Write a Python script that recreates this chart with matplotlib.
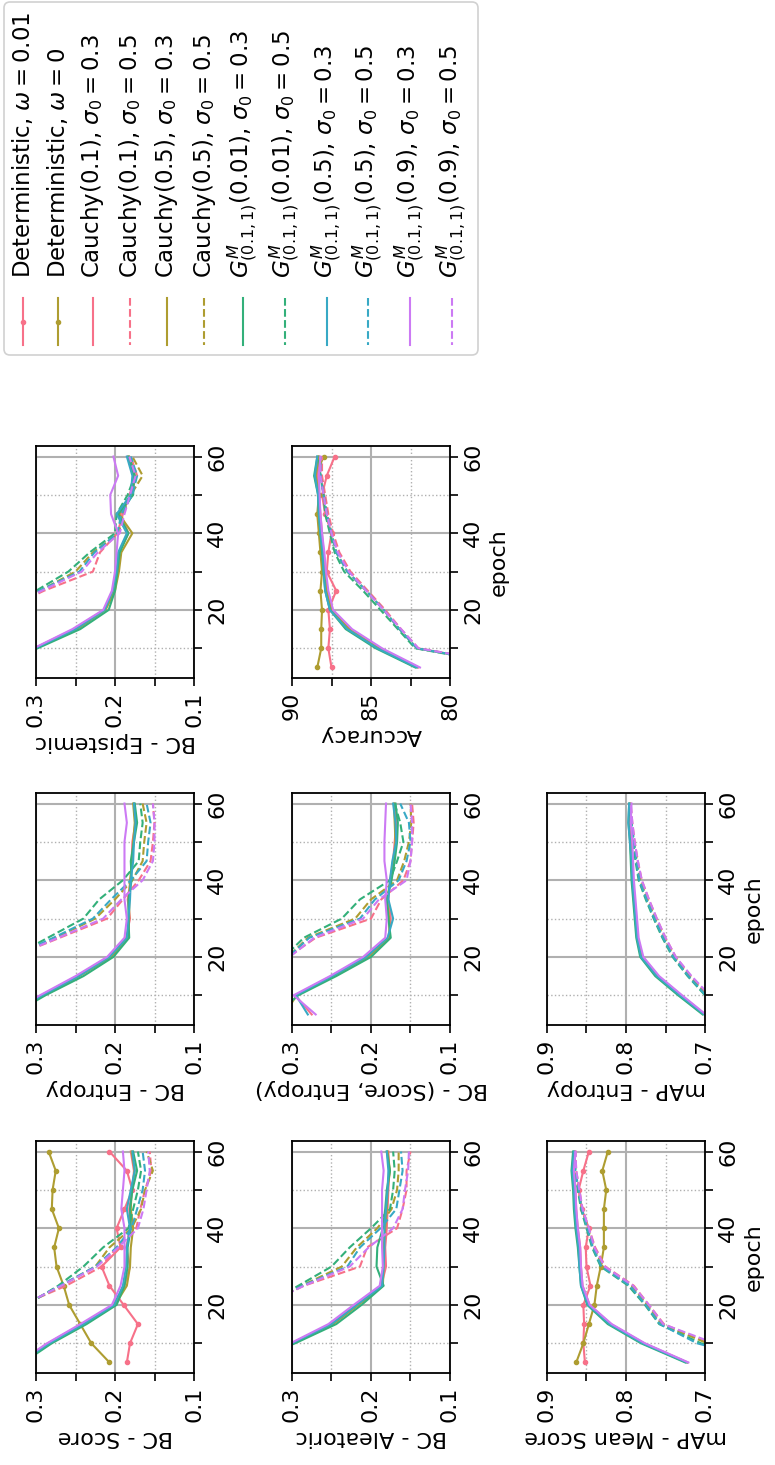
import matplotlib
matplotlib.use("Agg")
import matplotlib.pyplot as plt
import seaborn as sns
from matplotlib.lines import Line2D
from matplotlib.patches import FancyBboxPatch
from matplotlib.ticker import MultipleLocator

# data (epochs 5..60, one point every 5 epochs)
epochs = [5, 10, 15, 20, 25, 30, 35, 40, 45, 50, 55, 60]

labels = [
    r"Deterministic, $\omega = 0.01$",
    r"Deterministic, $\omega = 0$",
    r"Cauchy(0.1), $\sigma_0 = 0.3$",
    r"Cauchy(0.1), $\sigma_0 = 0.5$",
    r"Cauchy(0.5), $\sigma_0 = 0.3$",
    r"Cauchy(0.5), $\sigma_0 = 0.5$",
    r"$G^{M}_{(0.1, 1)}(0.01)$, $\sigma_0 = 0.3$",
    r"$G^{M}_{(0.1, 1)}(0.01)$, $\sigma_0 = 0.5$",
    r"$G^{M}_{(0.1, 1)}(0.5)$, $\sigma_0 = 0.3$",
    r"$G^{M}_{(0.1, 1)}(0.5)$, $\sigma_0 = 0.5$",
    r"$G^{M}_{(0.1, 1)}(0.9)$, $\sigma_0 = 0.3$",
    r"$G^{M}_{(0.1, 1)}(0.9)$, $\sigma_0 = 0.5$",
]

# deterministic runs (only in BC - Score, Accuracy, mAP - Mean Score)
det001_bc_score = [0.185, 0.181, 0.171, 0.189, 0.207, 0.217, 0.193, 0.198, 0.188, 0.178, 0.185, 0.207]
det0_bc_score = [0.207, 0.230, 0.244, 0.258, 0.265, 0.274, 0.277, 0.271, 0.280, 0.279, 0.275, 0.284]
det001_acc = [87.5, 87.7, 87.6, 87.7, 87.2, 87.8, 87.7, 87.5, 87.9, 88.1, 87.8, 87.3]
det0_acc = [88.4, 88.15, 88.15, 88.1, 88.2, 88.1, 88.2, 88.3, 88.4, 88.3, 88.5, 88.0]
det001_map = [0.852, 0.854, 0.853, 0.854, 0.845, 0.850, 0.851, 0.847, 0.856, 0.860, 0.854, 0.847]
det0_map = [0.863, 0.854, 0.847, 0.840, 0.837, 0.832, 0.828, 0.828, 0.828, 0.825, 0.830, 0.823]

# prior runs, order: Cauchy(0.1) .3/.5, Cauchy(0.5) .3/.5, G(0.01) .3/.5, G(0.5) .3/.5, G(0.9) .3/.5
bc_score = [
    [0.320, 0.285, 0.242, 0.202, 0.188, 0.181, 0.186, 0.180, 0.182, 0.178, 0.176, 0.180],
    [0.450, 0.400, 0.360, 0.318, 0.262, 0.217, 0.198, 0.173, 0.168, 0.162, 0.154, 0.156],
    [0.318, 0.283, 0.238, 0.200, 0.185, 0.181, 0.180, 0.177, 0.180, 0.179, 0.175, 0.179],
    [0.450, 0.400, 0.360, 0.315, 0.268, 0.225, 0.207, 0.179, 0.167, 0.162, 0.152, 0.160],
    [0.316, 0.280, 0.236, 0.198, 0.188, 0.184, 0.184, 0.180, 0.181, 0.178, 0.172, 0.177],
    [0.450, 0.400, 0.360, 0.312, 0.272, 0.240, 0.215, 0.183, 0.177, 0.171, 0.167, 0.171],
    [0.320, 0.283, 0.240, 0.201, 0.190, 0.186, 0.185, 0.181, 0.185, 0.180, 0.175, 0.178],
    [0.450, 0.400, 0.360, 0.314, 0.270, 0.225, 0.198, 0.179, 0.172, 0.165, 0.162, 0.165],
    [0.322, 0.286, 0.244, 0.204, 0.193, 0.188, 0.188, 0.188, 0.192, 0.190, 0.188, 0.190],
    [0.450, 0.400, 0.360, 0.316, 0.268, 0.223, 0.196, 0.171, 0.164, 0.160, 0.156, 0.158],
]
bc_entropy = [
    [0.335, 0.293, 0.248, 0.208, 0.186, 0.181, 0.184, 0.180, 0.179, 0.178, 0.174, 0.176],
    [0.450, 0.420, 0.380, 0.330, 0.270, 0.210, 0.190, 0.170, 0.155, 0.152, 0.150, 0.152],
    [0.332, 0.291, 0.245, 0.205, 0.184, 0.182, 0.182, 0.181, 0.178, 0.177, 0.175, 0.177],
    [0.450, 0.420, 0.380, 0.330, 0.275, 0.225, 0.200, 0.178, 0.165, 0.163, 0.160, 0.165],
    [0.330, 0.288, 0.240, 0.202, 0.182, 0.183, 0.183, 0.179, 0.180, 0.176, 0.172, 0.175],
    [0.450, 0.420, 0.380, 0.330, 0.285, 0.240, 0.220, 0.190, 0.170, 0.168, 0.165, 0.168],
    [0.334, 0.292, 0.246, 0.207, 0.185, 0.183, 0.181, 0.180, 0.177, 0.176, 0.174, 0.176],
    [0.450, 0.420, 0.380, 0.330, 0.278, 0.228, 0.205, 0.180, 0.160, 0.158, 0.155, 0.160],
    [0.337, 0.295, 0.250, 0.210, 0.188, 0.185, 0.188, 0.188, 0.188, 0.188, 0.185, 0.188],
    [0.450, 0.420, 0.380, 0.330, 0.272, 0.215, 0.192, 0.165, 0.152, 0.150, 0.150, 0.152],
]
bc_epistemic = [
    [0.360, 0.302, 0.252, 0.214, 0.202, 0.196, 0.195, 0.183, 0.193, 0.179, 0.177, 0.184],
    [0.450, 0.420, 0.380, 0.340, 0.290, 0.228, 0.219, 0.197, 0.190, 0.182, 0.172, 0.180],
    [0.358, 0.300, 0.248, 0.212, 0.200, 0.195, 0.192, 0.178, 0.195, 0.178, 0.175, 0.182],
    [0.450, 0.420, 0.380, 0.340, 0.295, 0.250, 0.228, 0.195, 0.190, 0.180, 0.165, 0.178],
    [0.355, 0.298, 0.244, 0.208, 0.200, 0.197, 0.194, 0.183, 0.196, 0.177, 0.176, 0.183],
    [0.450, 0.420, 0.380, 0.340, 0.300, 0.259, 0.232, 0.200, 0.198, 0.184, 0.175, 0.182],
    [0.360, 0.301, 0.250, 0.213, 0.203, 0.198, 0.196, 0.185, 0.198, 0.180, 0.178, 0.185],
    [0.450, 0.420, 0.380, 0.340, 0.296, 0.245, 0.226, 0.197, 0.192, 0.178, 0.172, 0.180],
    [0.362, 0.303, 0.254, 0.215, 0.204, 0.200, 0.198, 0.196, 0.205, 0.206, 0.196, 0.202],
    [0.450, 0.420, 0.380, 0.340, 0.293, 0.242, 0.222, 0.194, 0.188, 0.181, 0.174, 0.182],
]
bc_aleatoric = [
    [0.360, 0.300, 0.252, 0.220, 0.187, 0.181, 0.182, 0.180, 0.179, 0.178, 0.177, 0.178],
    [0.450, 0.420, 0.380, 0.335, 0.285, 0.214, 0.205, 0.167, 0.160, 0.155, 0.155, 0.150],
    [0.358, 0.298, 0.248, 0.216, 0.185, 0.184, 0.184, 0.182, 0.180, 0.179, 0.176, 0.179],
    [0.450, 0.420, 0.380, 0.335, 0.288, 0.237, 0.218, 0.192, 0.174, 0.167, 0.165, 0.165],
    [0.355, 0.296, 0.244, 0.212, 0.184, 0.193, 0.192, 0.185, 0.182, 0.180, 0.176, 0.180],
    [0.450, 0.420, 0.380, 0.335, 0.292, 0.250, 0.227, 0.200, 0.176, 0.172, 0.170, 0.172],
    [0.360, 0.300, 0.250, 0.218, 0.186, 0.184, 0.183, 0.183, 0.181, 0.179, 0.178, 0.180],
    [0.450, 0.420, 0.380, 0.335, 0.287, 0.230, 0.214, 0.188, 0.168, 0.164, 0.160, 0.162],
    [0.362, 0.302, 0.254, 0.222, 0.189, 0.185, 0.186, 0.186, 0.186, 0.186, 0.184, 0.187],
    [0.450, 0.420, 0.380, 0.335, 0.285, 0.227, 0.203, 0.172, 0.160, 0.157, 0.153, 0.152],
]
bc_score_entropy = [
    [0.275, 0.296, 0.250, 0.207, 0.178, 0.175, 0.178, 0.176, 0.172, 0.170, 0.168, 0.170],
    [0.420, 0.390, 0.350, 0.305, 0.270, 0.200, 0.187, 0.159, 0.150, 0.148, 0.146, 0.148],
    [0.310, 0.294, 0.248, 0.204, 0.176, 0.177, 0.180, 0.175, 0.171, 0.169, 0.170, 0.171],
    [0.420, 0.390, 0.350, 0.305, 0.280, 0.220, 0.200, 0.167, 0.158, 0.152, 0.149, 0.150],
    [0.320, 0.292, 0.244, 0.200, 0.175, 0.178, 0.180, 0.174, 0.170, 0.167, 0.166, 0.169],
    [0.420, 0.390, 0.350, 0.310, 0.285, 0.237, 0.214, 0.176, 0.167, 0.159, 0.163, 0.170],
    [0.280, 0.295, 0.249, 0.206, 0.179, 0.172, 0.178, 0.176, 0.173, 0.168, 0.169, 0.172],
    [0.420, 0.390, 0.350, 0.305, 0.278, 0.214, 0.195, 0.165, 0.155, 0.150, 0.152, 0.163],
    [0.270, 0.298, 0.252, 0.210, 0.182, 0.180, 0.182, 0.180, 0.183, 0.183, 0.182, 0.181],
    [0.420, 0.390, 0.350, 0.303, 0.272, 0.210, 0.190, 0.155, 0.150, 0.148, 0.148, 0.150],
]
accuracy = [
    [82.0, 84.4, 86.3, 87.5, 87.8, 87.9, 88.0, 88.1, 88.2, 88.3, 88.4, 88.3],
    [75.0, 82.0, 83.1, 84.1, 85.2, 86.3, 87.0, 87.4, 87.7, 87.9, 88.1, 88.1],
    [82.1, 84.5, 86.4, 87.5, 87.8, 87.9, 88.0, 88.2, 88.25, 88.3, 88.5, 88.3],
    [75.2, 82.1, 83.2, 84.2, 85.3, 86.5, 87.2, 87.5, 87.8, 88.0, 88.2, 88.2],
    [82.2, 84.7, 86.6, 87.6, 87.9, 88.0, 88.1, 88.2, 88.3, 88.35, 88.6, 88.4],
    [75.5, 82.2, 83.3, 84.4, 85.5, 86.7, 87.3, 87.6, 87.9, 88.0, 88.2, 88.3],
    [82.1, 84.6, 86.5, 87.6, 87.9, 88.0, 88.05, 88.2, 88.3, 88.35, 88.55, 88.4],
    [75.2, 82.1, 83.2, 84.2, 85.3, 86.5, 87.2, 87.5, 87.8, 88.0, 88.2, 88.2],
    [81.9, 84.3, 86.2, 87.4, 87.7, 87.85, 87.95, 88.1, 88.2, 88.25, 88.3, 88.2],
    [75.0, 82.0, 83.1, 84.2, 85.3, 86.4, 87.1, 87.5, 87.8, 88.0, 88.2, 88.2],
]
map_mean_score = [
    [0.722, 0.777, 0.819, 0.846, 0.855, 0.857, 0.858, 0.861, 0.863, 0.864, 0.866, 0.864],
    [0.620, 0.695, 0.752, 0.771, 0.790, 0.826, 0.839, 0.847, 0.855, 0.859, 0.863, 0.864],
    [0.723, 0.778, 0.820, 0.847, 0.856, 0.858, 0.859, 0.862, 0.864, 0.865, 0.867, 0.865],
    [0.620, 0.697, 0.755, 0.773, 0.793, 0.829, 0.841, 0.848, 0.856, 0.860, 0.864, 0.865],
    [0.725, 0.781, 0.823, 0.849, 0.857, 0.859, 0.861, 0.864, 0.866, 0.867, 0.869, 0.867],
    [0.620, 0.705, 0.758, 0.776, 0.797, 0.832, 0.843, 0.850, 0.857, 0.861, 0.865, 0.866],
    [0.723, 0.779, 0.821, 0.848, 0.857, 0.859, 0.860, 0.863, 0.865, 0.866, 0.868, 0.866],
    [0.620, 0.710, 0.757, 0.775, 0.795, 0.831, 0.842, 0.849, 0.856, 0.860, 0.864, 0.865],
    [0.721, 0.776, 0.818, 0.846, 0.855, 0.857, 0.858, 0.861, 0.863, 0.864, 0.866, 0.864],
    [0.620, 0.688, 0.753, 0.771, 0.791, 0.827, 0.840, 0.847, 0.855, 0.859, 0.863, 0.864],
]
map_entropy = [
    [0.700, 0.730, 0.759, 0.779, 0.785, 0.787, 0.789, 0.791, 0.792, 0.793, 0.795, 0.794],
    [0.620, 0.696, 0.718, 0.737, 0.750, 0.761, 0.771, 0.780, 0.785, 0.789, 0.792, 0.794],
    [0.701, 0.731, 0.760, 0.780, 0.786, 0.788, 0.790, 0.792, 0.793, 0.794, 0.796, 0.795],
    [0.620, 0.698, 0.720, 0.739, 0.752, 0.763, 0.773, 0.782, 0.786, 0.790, 0.793, 0.795],
    [0.703, 0.734, 0.763, 0.782, 0.787, 0.789, 0.791, 0.793, 0.794, 0.795, 0.797, 0.796],
    [0.620, 0.700, 0.722, 0.741, 0.754, 0.765, 0.775, 0.784, 0.788, 0.791, 0.794, 0.796],
    [0.701, 0.732, 0.761, 0.781, 0.786, 0.788, 0.790, 0.792, 0.793, 0.795, 0.797, 0.796],
    [0.620, 0.699, 0.721, 0.740, 0.753, 0.764, 0.774, 0.783, 0.787, 0.790, 0.793, 0.795],
    [0.699, 0.729, 0.758, 0.778, 0.784, 0.786, 0.788, 0.790, 0.791, 0.792, 0.794, 0.793],
    [0.620, 0.694, 0.717, 0.737, 0.750, 0.761, 0.771, 0.780, 0.785, 0.789, 0.792, 0.794],
]

colors = sns.color_palette("husl", 5)
W, H = 775, 1465
fig = plt.figure(figsize=(W / 100, H / 100), dpi=100)


def px_rect(x0, x1, y0, y1):
    # pixel box (top-left origin) -> figure fraction rect
    return [x0 / W, 1 - y1 / H, (x1 - x0) / W, (y1 - y0) / H]


def draw_panel(rect, runs, lims, major, minor, label, det=None, epoch_label=False):
    ax = fig.add_axes(rect)
    if det is not None:
        ax.plot(det[0], epochs, color=colors[0], marker=".", ms=6, lw=1.5)
        ax.plot(det[1], epochs, color=colors[1], marker=".", ms=6, lw=1.5)
    for i, vals in enumerate(runs):
        ax.plot(vals, epochs, color=colors[i // 2], lw=1.5,
                ls="-" if i % 2 == 0 else "--")
    ax.set_xlim(lims[1], lims[0])
    ax.xaxis.set_major_locator(MultipleLocator(major))
    ax.xaxis.set_minor_locator(MultipleLocator(minor))
    ax.yaxis.set_major_locator(MultipleLocator(20))
    ax.yaxis.set_minor_locator(MultipleLocator(10))
    ax.yaxis.tick_right()
    ax.yaxis.set_label_position("right")
    ax.grid(which="major", color="#b0b0b0", lw=1.5)
    ax.grid(which="minor", color="#b0b0b0", ls=":", lw=1.0)
    ax.tick_params(which="both", direction="out", length=6, width=1.2, labelsize=16)
    ax.tick_params(axis="both", which="major", labelrotation=90)
    for s in ax.spines.values():
        s.set_linewidth(1.3)
    ax.set_xlabel(label, rotation=180, fontsize=16)
    if epoch_label:
        ax.set_ylabel("epoch", rotation=90, fontsize=16)
    plt.setp(ax.get_yticklabels(), va="center")
    return ax


rows = [(36, 194), (292, 450), (547, 705)]
cols = [(1141, 1373), (793, 1025), (446, 678)]

draw_panel(px_rect(*rows[0], *cols[0]), bc_score, (0.1, 0.3), 0.1, 0.05, "BC - Score",
           det=(det001_bc_score, det0_bc_score))
draw_panel(px_rect(*rows[0], *cols[1]), bc_entropy, (0.1, 0.3), 0.1, 0.05, "BC - Entropy")
draw_panel(px_rect(*rows[0], *cols[2]), bc_epistemic, (0.1, 0.3), 0.1, 0.05, "BC - Epistemic")
draw_panel(px_rect(*rows[1], *cols[0]), bc_aleatoric, (0.1, 0.3), 0.1, 0.05, "BC - Aleatoric")
draw_panel(px_rect(*rows[1], *cols[1]), bc_score_entropy, (0.1, 0.3), 0.1, 0.05,
           "BC - (Score, Entropy)")
draw_panel(px_rect(*rows[1], *cols[2]), accuracy, (80, 90), 5, 2.5, "Accuracy",
           det=(det001_acc, det0_acc), epoch_label=True)
draw_panel(px_rect(*rows[2], *cols[0]), map_mean_score, (0.7, 0.9), 0.1, 0.05,
           "mAP - Mean Score", det=(det001_map, det0_map), epoch_label=True)
draw_panel(px_rect(*rows[2], *cols[1]), map_entropy, (0.7, 0.9), 0.1, 0.05,
           "mAP - Entropy", epoch_label=True)

# legend, drawn by hand so that it reads rotated like the panels
tr = fig.dpi_scale_trans
box = FancyBboxPatch((0.04, 11.10), 4.74, 3.53, boxstyle="round,pad=0,rounding_size=0.06",
                     transform=tr, fc="white", ec="#cccccc", lw=1.2, alpha=0.9)
fig.patches.append(box)
entry_x = [23, 58, 93, 130, 167, 204, 243, 285, 327, 368, 410, 452]
for i, (lab, xp) in enumerate(zip(labels, entry_x)):
    x = xp / 100
    if i < 2:
        c, ls = colors[i], "-"
        line = Line2D([x, x, x], [11.67, 11.435, 11.20], color=c, lw=1.5, ls=ls,
                      marker=".", ms=6, markevery=[1], transform=tr)
    else:
        k = i - 2
        c, ls = colors[k // 2], ("-" if k % 2 == 0 else "--")
        line = Line2D([x, x], [11.67, 11.20], color=c, lw=1.5, ls=ls, transform=tr)
    fig.lines.append(line)
    fig.text(x, (H - 278) / 100, lab, rotation=90, ha="center", va="bottom",
             fontsize=16.5, transform=tr)

fig.savefig("out.png", dpi=100)
